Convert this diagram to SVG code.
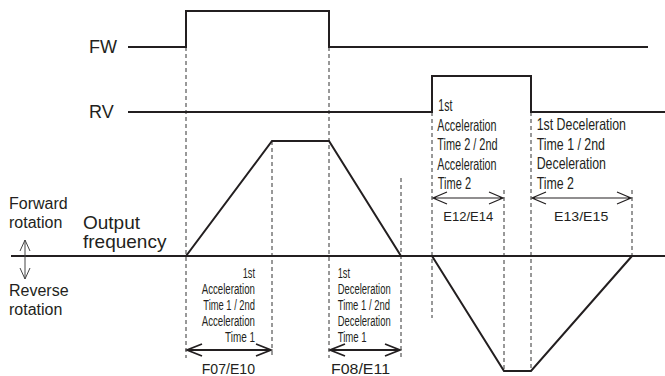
<svg xmlns="http://www.w3.org/2000/svg" width="665" height="376" viewBox="0 0 665 376">
<defs>
<style>
.sig{fill:none;stroke:#231f20;stroke-width:2;stroke-linejoin:miter}
.dash{fill:none;stroke:#333;stroke-width:1;stroke-dasharray:4 3}
.arr{fill:none;stroke:#231f20;stroke-width:1.8}
.arr2{fill:none;stroke:#231f20;stroke-width:1.2}
.thin{fill:none;stroke:#444;stroke-width:1}
text{font-family:"Liberation Sans",Arial,sans-serif;fill:#231f20}
.lbl{font-size:18px}
.side{font-size:16px}
.out{font-size:19px}
.cn{font-size:14px}
.cn2{font-size:16.5px}
.code{font-size:14px}
.code2{font-size:13.5px}
</style>
</defs>
<rect width="665" height="376" fill="#fff"/>

<g id="guides">
<line class="dash" x1="186" y1="47" x2="186" y2="358"/>
<line class="dash" x1="272" y1="141" x2="272" y2="358"/>
<line class="dash" x1="329" y1="47" x2="329" y2="358"/>
<line class="dash" x1="401" y1="178" x2="401" y2="358"/>
<line class="dash" x1="432" y1="112" x2="432" y2="318"/>
<line class="dash" x1="504" y1="190" x2="504" y2="371"/>
<line class="dash" x1="531" y1="112" x2="531" y2="371"/>
<line class="dash" x1="632" y1="190" x2="632" y2="256"/>
</g>

<g id="FW">
<text class="lbl" x="89" y="53">FW</text>
<path class="sig" d="M128,47 H186 V11 H329 V47 H648"/>
</g>

<g id="RV">
<text class="lbl" x="89" y="118">RV</text>
<path class="sig" d="M128,112 H432 V76 H531 V112 H665"/>
</g>

<g id="output">
<text class="out" x="83" y="229">Output</text>
<text class="out" x="83" y="248">frequency</text>
<line class="sig" x1="11" y1="256" x2="665" y2="256" stroke-width="2.2"/>
<path class="sig" d="M186,256 L272,141 H329 L401,256"/>
<path class="sig" d="M432,256 L504,371 H531 L632,256"/>
</g>

<g id="direction">
<text class="side" x="9" y="209">Forward</text>
<text class="side" x="9" y="228">rotation</text>
<text class="side" x="9" y="296">Reverse</text>
<text class="side" x="9" y="315">rotation</text>
<path class="thin" d="M25,240 V279 M20,251 L25,240 L30,251 M20,268 L25,279 L30,268"/>
</g>

<g id="connectors">
<path class="arr" d="M187,350 H271 M202,344 L187,350 L202,356 M256,344 L271,350 L256,356"/>
<path class="arr" d="M330,350 H400 M345,344 L330,350 L345,356 M385,344 L400,350 L385,356"/>
<path class="arr2" d="M433,198 H503 M447,192 L433,198 L447,204 M489,192 L503,198 L489,204"/>
<path class="arr2" d="M532,198 H631 M546,192 L532,198 L546,204 M617,192 L631,198 L617,204"/>
</g>

<g id="accel1">
<text class="cn" x="242.7" y="277.5" textLength="12.3" lengthAdjust="spacingAndGlyphs">1st</text>
<text class="cn" x="201.7" y="293.5" textLength="53.3" lengthAdjust="spacingAndGlyphs">Acceleration</text>
<text class="cn" x="203.3" y="309.5" textLength="51.7" lengthAdjust="spacingAndGlyphs">Time 1 / 2nd</text>
<text class="cn" x="201.7" y="325.5" textLength="53.3" lengthAdjust="spacingAndGlyphs">Acceleration</text>
<text class="cn" x="225" y="341.5" textLength="30" lengthAdjust="spacingAndGlyphs">Time 1</text>
<text class="code" x="201.7" y="374" textLength="53.3" lengthAdjust="spacingAndGlyphs">F07/E10</text>
</g>

<g id="decel1">
<text class="cn" x="337.7" y="277.5" textLength="12.3" lengthAdjust="spacingAndGlyphs">1st</text>
<text class="cn" x="337.7" y="293.5" textLength="53" lengthAdjust="spacingAndGlyphs">Deceleration</text>
<text class="cn" x="337.7" y="309.5" textLength="52.3" lengthAdjust="spacingAndGlyphs">Time 1 / 2nd</text>
<text class="cn" x="337.7" y="325.5" textLength="53" lengthAdjust="spacingAndGlyphs">Deceleration</text>
<text class="cn" x="337.7" y="341.5" textLength="29" lengthAdjust="spacingAndGlyphs">Time 1</text>
<text class="code" x="331" y="374" textLength="59" lengthAdjust="spacingAndGlyphs">F08/E11</text>
</g>

<g id="accel2">
<text class="cn2" x="438.3" y="111" textLength="14" lengthAdjust="spacingAndGlyphs">1st</text>
<text class="cn2" x="437.3" y="130.5" textLength="59.3" lengthAdjust="spacingAndGlyphs">Acceleration</text>
<text class="cn2" x="437.3" y="150" textLength="60.3" lengthAdjust="spacingAndGlyphs">Time 2 / 2nd</text>
<text class="cn2" x="437.3" y="169.5" textLength="59.3" lengthAdjust="spacingAndGlyphs">Acceleration</text>
<text class="cn2" x="437.8" y="189" textLength="33.3" lengthAdjust="spacingAndGlyphs">Time 2</text>
<text class="code2" x="443.3" y="221" textLength="50" lengthAdjust="spacingAndGlyphs">E12/E14</text>
</g>

<g id="decel2">
<text class="cn2" x="536.7" y="130" textLength="89.3" lengthAdjust="spacingAndGlyphs">1st Deceleration</text>
<text class="cn2" x="536.7" y="149.5" textLength="68.3" lengthAdjust="spacingAndGlyphs">Time 1 / 2nd</text>
<text class="cn2" x="536.7" y="169" textLength="69.3" lengthAdjust="spacingAndGlyphs">Deceleration</text>
<text class="cn2" x="536.7" y="188.5" textLength="37.3" lengthAdjust="spacingAndGlyphs">Time 2</text>
<text class="code2" x="554" y="221" textLength="54.3" lengthAdjust="spacingAndGlyphs">E13/E15</text>
</g>
</svg>
